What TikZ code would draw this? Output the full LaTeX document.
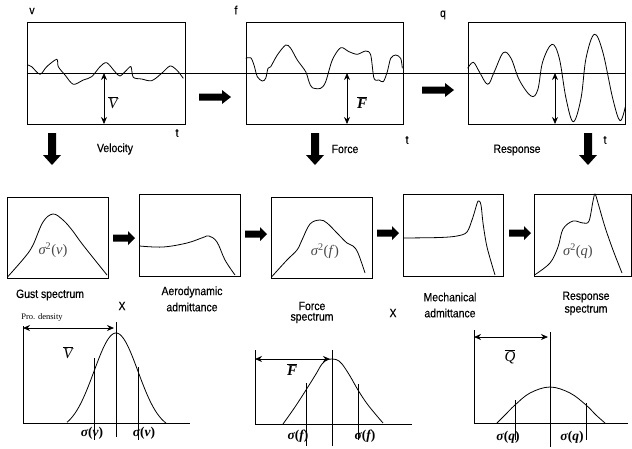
\documentclass[tikz,border=0pt]{standalone}
\usepackage{fontspec}
\setmainfont{Liberation Sans}
\newfontfamily\tms{Liberation Serif}
\newfontfamily\lblfont{Liberation Sans}[FakeStretch=0.87, FakeBold=0.4]
\usetikzlibrary{arrows.meta}
\tikzset{
  box/.style={draw, line width=0.8pt, inner sep=0pt},
  lbl/.style={font=\lblfont\fontsize{12}{14}\selectfont, inner sep=0pt},
  wave/.style={line width=0.8pt, line join=round},
  sigtxt/.style={font=\tms\fontsize{14.5}{16}\selectfont, text=black!72, inner sep=0pt},
  sgl/.style={font=\tms\fontsize{13.5}{15}\selectfont\bfseries, inner sep=0pt},
  bartxt/.style={font=\tms\fontsize{15}{17}\selectfont, inner sep=0pt},
  dbl/.style={{Stealth[length=7pt,width=6pt]}-{Stealth[length=7pt,width=6pt]}, line width=0.8pt},
  thin/.style={line width=0.8pt},
  bigarrow/.pic={\fill (0,-3.5) -- (23,-3.5) -- (23,-7) -- (32,0) -- (23,7) -- (23,3.5) -- (0,3.5) -- cycle;},
  smallarrow/.pic={\fill (0,-3.5) -- (15,-3.5) -- (15,-7) -- (22,0) -- (15,7) -- (15,3.5) -- (0,3.5) -- cycle;},
  downarrow/.pic={\fill (-4,0) -- (-4,22) -- (-9,22) -- (0,32) -- (9,22) -- (4,22) -- (4,0) -- cycle;}
}
\begin{document}
\begin{tikzpicture}[x=1pt,y=-1pt]
\useasboundingbox (0,0) rectangle (632,448);

% ---------- top row ----------
\node[box, minimum width=158pt, minimum height=102pt] (t1) at (106,73) {};
\node[box, minimum width=157pt, minimum height=102pt] (t2) at (324.5,73) {};
\node[box, minimum width=157pt, minimum height=102pt] (t3) at (546.5,73) {};
\draw[thin] (t1.west) -- (t3.east);

\draw[wave] plot[smooth, tension=0.5] coordinates {(27.7,65) (31.7,66.7) (40,74.3) (46.7,66.7) (56.7,59.3) (58.3,66.7) (65,75) (73.3,84.3) (83.3,80) (91.7,76.7) (100,66.7) (106.7,62.7) (115,71.7) (120,76) (126.7,70) (131,66.7) (133.3,77.3) (141.7,79) (151.7,80.7) (161.7,73.3) (170,66) (176.7,70) (183.3,78.3)};
\draw[wave] plot[smooth, tension=0.5] coordinates {(245.7,58.3) (250.7,57.7) (254,65) (257.3,76.7) (262.3,81) (265.7,78.3) (268,68.3) (270.7,66.7) (277.3,55) (285.7,45) (290.7,48.3) (297.3,60) (305.7,71.7) (309,81.7) (312.3,87.7) (320.7,88.3) (325.7,81.7) (332.3,60) (340.7,47.7) (349,51.7) (357.3,54.3) (365.7,51) (370.7,55) (374,78.3) (379,80) (383.3,81.7) (387.3,71.7) (390.7,58.3) (395.7,55) (400.7,58.3) (402.3,68.3)};
\draw[wave] plot[smooth, tension=0.6] coordinates {(467.7,68.3) (473.3,62.3) (479.3,71.7) (487.7,84.3) (494.3,71.7) (503.3,52.7) (511,58.3) (519.3,80) (531,96) (537.7,90) (542.7,61.7) (552,44.3) (559.3,58.3) (566,98.3) (573.3,121.7) (581,98.3) (586,58.3) (594.3,34.3) (602.7,51.7) (612.7,98.3) (620,120.7) (625.3,106.7)};

\draw[dbl] (104,73) -- (104,124);
\draw[dbl] (347,73) -- (347,124);
\draw[dbl] (555,73) -- (555,124);
\node[bartxt] (vbar1) at (113,103) {$\overline{\hbox{\tms\itshape V}}$};
\node[bartxt] (fbar1) at (362,103) {$\overline{\hbox{\tms\bfseries\itshape F}}$};

\node[lbl] (lv) at (32,11) {v};
\node[lbl] (lf) at (236,10) {f};
\node[lbl] (lq) at (443,15) {q};
\node[lbl] (lt1) at (177,133) {t};
\node[lbl] (lt2) at (407,140) {t};
\node[lbl] (lt3) at (605,140) {t};
\node[lbl] (vel) at (115,149) {Velocity};
\node[lbl] (frc) at (345,149) {Force};
\node[lbl] (rsp) at (517,150) {Response};

\pic at (199,97) {bigarrow};
\pic at (422,90) {bigarrow};
\pic at (52,133) {downarrow};
\pic at (315,133) {downarrow};
\pic at (588,133) {downarrow};

% ---------- middle row ----------
\node[box, minimum width=101pt, minimum height=81pt] (ma) at (57.5,237.5) {};
\node[box, minimum width=101pt, minimum height=82pt] (mb) at (189.5,235) {};
\node[box, minimum width=101pt, minimum height=81pt] (mc) at (321.5,237.5) {};
\node[box, minimum width=100pt, minimum height=82pt] (md) at (453,235) {};
\node[box, minimum width=97pt, minimum height=82pt] (me) at (582.5,235) {};

\pic at (113,238) {smallarrow};
\pic at (245,234) {smallarrow};
\pic at (377,233) {smallarrow};
\pic at (509,233) {smallarrow};

\draw[wave] plot[smooth, tension=0.6] coordinates {(7.5,277) (25,257) (33,245) (43,222) (53,214) (63,220) (72,230) (83,245) (107,275)};
\draw[wave] plot[smooth, tension=0.6] coordinates {(139.5,246) (163,247) (187,243) (203,237.5) (209,236) (217,242) (225,260) (235,275)};
\draw[wave] plot[smooth, tension=0.6] coordinates {(271.5,277) (287,260) (297,250) (302,240) (310,224) (320,220) (327,223) (337,233) (347,243) (353,246) (358,253) (365,273)};
\draw[wave] plot[smooth, tension=0.5] coordinates {(403.5,238) (440,237.5) (457,236) (467,232) (473,217) (478,201) (481,205) (483,223) (487,247) (495,275)};
\draw[wave] plot[smooth, tension=0.55] coordinates {(534.5,275) (550,263) (558,247) (563,229) (573,221) (583,223) (589,221) (593,201) (595,194) (598,203) (605,227) (613,250) (622,273)};

\node[sigtxt] (s1) at (53,250) {{\itshape σ}\textsuperscript{2}(\textit{v})};
\node[sigtxt] (s2) at (325,251) {{\itshape σ}\textsuperscript{2}(\textit{f})};
\node[sigtxt] (s3) at (578,251) {{\itshape σ}\textsuperscript{2}(\textit{q})};

\node[lbl] (gust) at (50,295) {Gust spectrum};
\node[lbl] (aero1) at (192,292) {Aerodynamic};
\node[lbl] (aero2) at (192,307) {admittance};
\node[lbl] (x1) at (122,306) {X};
\node[lbl] (fs1) at (312,306) {Force};
\node[lbl] (fs2) at (312,318) {spectrum};
\node[lbl] (x2) at (393,313) {X};
\node[lbl] (mech1) at (450,297) {Mechanical};
\node[lbl] (mech2) at (450,313) {admittance};
\node[lbl] (rs1) at (586,297) {Response};
\node[lbl] (rs2) at (586,310) {spectrum};

% ---------- bottom row ----------
\node[font=\tms\fontsize{8.5}{10}\selectfont, inner sep=0pt] (pd) at (42,317) {Pro. density};

% panel 1
\coordinate (o1) at (23,423);
\draw[thin] (23,326) -- (o1) -- (190,423);
\draw[dbl] (23,328) -- (114,328);
\draw[thin] (116,322) -- (116,437);
\draw[wave] plot[domain=67:166, samples=70, smooth] (\x, {423 - 90*(exp(-((\x-116)/22)^2/2) - 0.076)/0.924});
\node[bartxt] (vbar2) at (68,353) {$\overline{\hbox{\tms\itshape V}}$};
\node[sgl] (sv1) at (92,433) {\itshape σ\upshape(\itshape v\upshape)};
\node[sgl] (sv2) at (144,433) {\itshape σ\upshape(\itshape v\upshape)};
\draw[thin] (94,358) -- (94,440);
\draw[thin] (138,367) -- (138,440);

% panel 2
\coordinate (o2) at (255,424);
\draw[thin] (255,350) -- (o2) -- (412,424);
\draw[dbl] (255,359) -- (330,359);
\draw[thin] (332,350) -- (332,446);
\draw[wave] plot[smooth, tension=0.6] coordinates {(283,424) (295,407) (306,390) (316,374) (322,364) (328,359.5) (336,359.5) (342,364) (350,376) (358,390) (368,405) (383,423)};
\node[bartxt] (fbar2) at (292,370) {$\overline{\hbox{\tms\bfseries\itshape F}}$};
\node[sgl] (sf1) at (298,436) {\itshape σ\upshape(\itshape f\upshape)};
\node[sgl] (sf2) at (365,436) {\itshape σ\upshape(\itshape f\upshape)};
\draw[thin] (306,383) -- (306,446);
\draw[thin] (358,384) -- (358,440);

% panel 3
\coordinate (o3) at (474,423);
\draw[thin] (474,330) -- (o3) -- (628,423);
\draw[dbl] (474,337) -- (548,337);
\draw[thin] (550,332) -- (550,447);
\draw[wave] plot[smooth, tension=0.6] coordinates {(497,423) (506,414) (515,405) (530,393) (550,387) (570,393) (586,405) (596,415) (605,423)};
\node[bartxt] (qbar) at (510,357) {$\overline{\hbox{\tms\itshape Q}}$};
\node[sgl] (sq1) at (508,437) {\itshape σ\upshape(\itshape q\upshape)};
\node[sgl] (sq2) at (572,437) {\itshape σ\upshape(\itshape q\upshape)};
\draw[thin] (515,400) -- (515,440);
\draw[thin] (586,403) -- (586,440);
\end{tikzpicture}
\end{document}
